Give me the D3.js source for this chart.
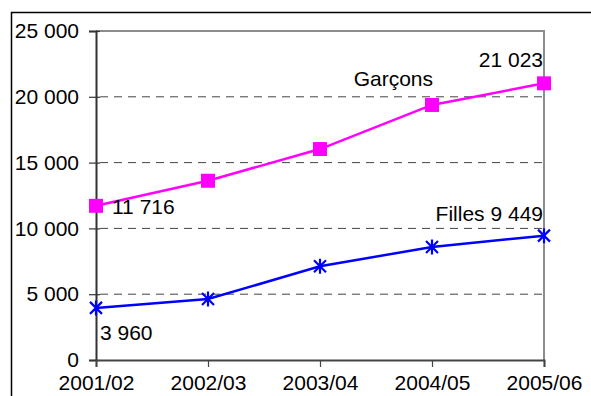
<!DOCTYPE html>
<html><head><meta charset="utf-8">
<script src="https://cdn.jsdelivr.net/npm/d3@7"></script>
<style>
html,body{margin:0;padding:0;background:#fff;}
svg{display:block;font-family:"Liberation Sans",Arial,sans-serif;}
</style></head>
<body>
<svg id="c" width="591" height="396"></svg>
<script>
const categories = ["2001/02","2002/03","2003/04","2004/05","2005/06"];
const garcons = [11716, 13620, 16030, 19380, 21023];
const filles = [3960, 4630, 7120, 8590, 9449];
const yTicks = [0, 5000, 10000, 15000, 20000, 25000];

const svg = d3.select("#c");
const fmt = v => d3.format(",")(v).replace(/,/g, " ");
const x = d3.scalePoint().domain(categories).range([96, 544]);
const y = d3.scaleLinear().domain([0, 25000]).range([360, 31]);
const fs = "21px";

// outer frame
svg.append("path").attr("d","M11.5,400 V12.5 H600").attr("fill","none").attr("stroke","#000").attr("stroke-width",1.5);

// gridlines
svg.append("g").selectAll("line").data(yTicks.filter(d => d > 0 && d < 25000)).join("line")
  .attr("x1", 100).attr("x2", 543).attr("y1", d => y(d)).attr("y2", d => y(d))
  .attr("stroke", "#444").attr("stroke-width", 1).attr("stroke-dasharray", "8,6");

// plot border top/right
svg.append("path").attr("d", `M${x(categories[0])},${y(25000)} H${x(categories[4])} V${y(0)}`)
  .attr("fill","none").attr("stroke","#8c8c8c").attr("stroke-width",2);

// y axis
const yAxis = svg.append("g").attr("transform", `translate(${x(categories[0])},0)`)
  .call(d3.axisLeft(y).tickValues(yTicks).tickFormat(fmt).tickSize(7).tickPadding(10));
yAxis.select(".domain").attr("stroke","#333").attr("stroke-width",2);
yAxis.selectAll(".tick line").attr("stroke","#333").attr("stroke-width",1.2).attr("x2",-7).attr("x1",4);
yAxis.selectAll("text").attr("font-size", fs).attr("fill","#000").attr("font-family","Liberation Sans, Arial, sans-serif");

// x axis
const xAxis = svg.append("g").attr("transform", `translate(0,${y(0)})`)
  .call(d3.axisBottom(x).tickSize(7).tickPadding(8));
xAxis.select(".domain").attr("stroke","#444").attr("stroke-width",2);
xAxis.selectAll(".tick line").attr("stroke","#444").attr("stroke-width",1.2);
xAxis.selectAll("text").attr("font-size", fs).attr("fill","#000").attr("font-family","Liberation Sans, Arial, sans-serif");

const line = d3.line().x((d,i) => x(categories[i])).y(d => y(d));

// Garçons
svg.append("path").datum(garcons).attr("d", line).attr("fill","none").attr("stroke","#FF00FF").attr("stroke-width",2.5);
svg.append("g").selectAll("rect").data(garcons).join("rect")
  .attr("x",(d,i)=>x(categories[i])-7).attr("y",d=>y(d)-7).attr("width",14).attr("height",14).attr("fill","#FF00FF");

// Filles
svg.append("path").datum(filles).attr("d", line).attr("fill","none").attr("stroke","#0000FF").attr("stroke-width",2.5);
const star = "M-6,-6L6,6M-6,6L6,-6M0,-7.5V7.5";
svg.append("g").selectAll("path").data(filles).join("path")
  .attr("transform",(d,i)=>`translate(${x(categories[i])},${y(d)})`)
  .attr("d", star).attr("fill","none").attr("stroke","#0000FF").attr("stroke-width",2.2);

// labels
const lab = (t, px, py, anchor) => svg.append("text").attr("x",px).attr("y",py).attr("text-anchor",anchor||"start")
  .attr("font-size",fs).attr("fill","#000").text(t);
lab(fmt(garcons[0]), x(categories[0]) + 16, y(garcons[0]) + 8);
lab(fmt(garcons[4]), x(categories[4]) - 1, y(garcons[4]) - 16, "end");
lab("Garçons", x(categories[3]) + 1, y(garcons[3]) - 19, "end");
lab("Filles " + fmt(filles[4]), x(categories[4]) - 1, y(filles[4]) - 15, "end");
lab(fmt(filles[0]), x(categories[0]) + 4, y(filles[0]) + 32);
</script>
</body></html>
